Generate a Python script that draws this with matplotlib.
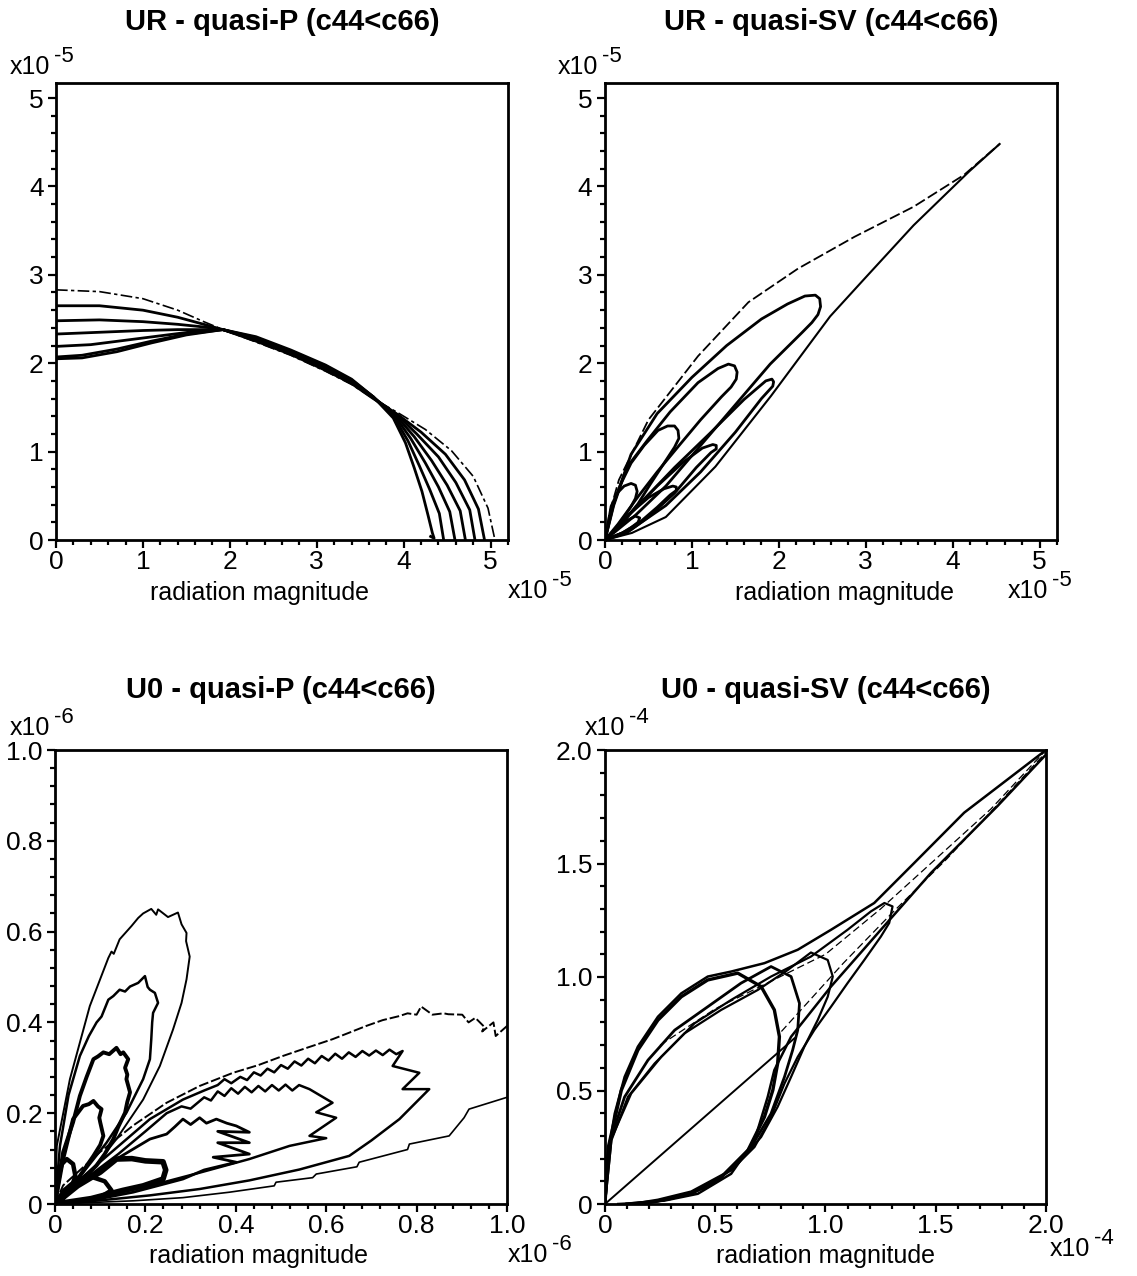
import matplotlib
matplotlib.use("Agg")
import matplotlib.pyplot as plt
from matplotlib.ticker import FixedLocator, MultipleLocator

plt.rcParams["font.family"] = ["Liberation Sans", "DejaVu Sans"]

# ---------------- data ----------------
# UR - quasi-P : seven radiation curves, units of 1e-5
qp_c0_x = [0, 0.5, 1.0, 1.4, 1.7, 1.92, 2.3, 2.7, 3.1, 3.4, 3.65, 3.95, 4.25, 4.55, 4.8, 4.97, 5.05]
qp_c0_y = [2.83, 2.81, 2.73, 2.60, 2.47, 2.38, 2.24, 2.09, 1.91, 1.76, 1.60, 1.43, 1.25, 1.01, 0.72, 0.36, 0.0]
qp_c1_x = [0, 0.5, 1.0, 1.4, 1.7, 1.92, 2.3, 2.7, 3.1, 3.4, 3.65, 3.93, 4.2, 4.48, 4.7, 4.86, 4.93]
qp_c1_y = [2.65, 2.65, 2.60, 2.52, 2.44, 2.38, 2.25, 2.10, 1.92, 1.77, 1.60, 1.42, 1.22, 0.97, 0.68, 0.35, 0.0]
qp_c2_x = [0, 0.5, 1.0, 1.4, 1.7, 1.92, 2.3, 2.7, 3.1, 3.4, 3.65, 3.92, 4.15, 4.4, 4.6, 4.76, 4.82]
qp_c2_y = [2.48, 2.49, 2.47, 2.44, 2.41, 2.38, 2.26, 2.11, 1.94, 1.78, 1.61, 1.42, 1.20, 0.94, 0.65, 0.34, 0.0]
qp_c3_x = [0, 0.5, 1.0, 1.4, 1.7, 1.92, 2.3, 2.7, 3.1, 3.4, 3.65, 3.91, 4.12, 4.32, 4.5, 4.65, 4.71]
qp_c3_y = [2.33, 2.35, 2.37, 2.38, 2.38, 2.38, 2.27, 2.12, 1.95, 1.79, 1.61, 1.41, 1.17, 0.90, 0.62, 0.33, 0.0]
qp_c4_x = [0, 0.4, 0.8, 1.2, 1.6, 1.92, 2.3, 2.7, 3.1, 3.4, 3.65, 3.9, 4.08, 4.25, 4.4, 4.53, 4.59]
qp_c4_y = [2.19, 2.21, 2.26, 2.31, 2.36, 2.38, 2.28, 2.13, 1.96, 1.80, 1.62, 1.40, 1.15, 0.87, 0.60, 0.32, 0.0]
qp_c5_x = [0, 0.3, 0.7, 1.1, 1.5, 1.92, 2.3, 2.7, 3.1, 3.4, 3.65, 3.89, 4.05, 4.18, 4.3, 4.41, 4.46]
qp_c5_y = [2.07, 2.09, 2.16, 2.25, 2.33, 2.38, 2.29, 2.14, 1.97, 1.81, 1.62, 1.39, 1.12, 0.84, 0.57, 0.30, 0.0]
qp_c6_x = [0, 0.3, 0.7, 1.1, 1.5, 1.92, 2.3, 2.7, 3.1, 3.4, 3.65, 3.88, 4.02, 4.12, 4.21, 4.28, 4.33, 4.35, 4.31]
qp_c6_y = [2.05, 2.06, 2.13, 2.23, 2.32, 2.38, 2.30, 2.15, 1.98, 1.82, 1.62, 1.38, 1.10, 0.82, 0.55, 0.28, 0.08, 0.02, 0.04]

# UR - quasi-SV : envelope and lobes, units of 1e-5
sv_env_up_x = [0, 0.05, 0.16, 0.5, 1.07, 1.65, 2.22, 2.87, 3.55, 4.13, 4.54]
sv_env_up_y = [0, 0.3, 0.68, 1.36, 2.08, 2.69, 3.07, 3.43, 3.77, 4.13, 4.48]
sv_env_lo_x = [4.54, 4.19, 3.55, 2.98, 2.59, 1.91, 1.27, 0.70, 0.31, 0]
sv_env_lo_y = [4.48, 4.17, 3.56, 2.95, 2.53, 1.63, 0.83, 0.26, 0.08, 0]
sv_lobe1_x = [0, 0.1, 0.3, 0.6, 1.0, 1.4, 1.8, 2.1, 2.3, 2.42, 2.47, 2.48, 2.45, 2.38, 2.27, 1.9, 1.5, 1.1, 0.7, 0.35, 0]
sv_lobe1_y = [0, 0.41, 0.97, 1.43, 1.84, 2.2, 2.5, 2.67, 2.76, 2.77, 2.73, 2.64, 2.55, 2.46, 2.35, 1.99, 1.53, 1.07, 0.61, 0.28, 0]
sv_lobe2_x = [0, 0.1, 0.25, 0.49, 0.75, 1.07, 1.3, 1.42, 1.49, 1.52, 1.51, 1.45, 1.34, 1.1, 0.87, 0.6, 0.38, 0.15, 0]
sv_lobe2_y = [0, 0.39, 0.82, 1.13, 1.45, 1.78, 1.94, 1.99, 1.97, 1.9, 1.82, 1.73, 1.62, 1.36, 1.09, 0.77, 0.49, 0.18, 0]
sv_lobe3_x = [0, 0.08, 0.18, 0.30, 0.45, 0.61, 0.72, 0.8, 0.84, 0.85, 0.8, 0.68, 0.52, 0.38, 0.18, 0]
sv_lobe3_y = [0, 0.36, 0.63, 0.87, 1.07, 1.24, 1.29, 1.29, 1.24, 1.15, 1.05, 0.87, 0.63, 0.41, 0.17, 0]
sv_lobe4_x = [0, 0.03, 0.07, 0.14, 0.22, 0.3, 0.35, 0.37, 0.35, 0.3, 0.22, 0.1, 0]
sv_lobe4_y = [0, 0.15, 0.38, 0.53, 0.61, 0.64, 0.62, 0.55, 0.47, 0.38, 0.26, 0.1, 0]
sv_low1_x = [0, 0.1, 0.2, 0.3, 0.38, 0.4, 0.35, 0.25, 0.12, 0]
sv_low1_y = [0, 0.04, 0.08, 0.14, 0.2, 0.25, 0.27, 0.22, 0.11, 0]
sv_low2_x = [0, 0.2, 0.4, 0.6, 0.75, 0.82, 0.82, 0.78, 0.68, 0.5, 0.3, 0.12, 0]
sv_low2_y = [0, 0.08, 0.2, 0.37, 0.51, 0.56, 0.6, 0.61, 0.58, 0.48, 0.31, 0.12, 0]
sv_low3_x = [0, 0.25, 0.5, 0.8, 1.05, 1.22, 1.28, 1.28, 1.24, 1.12, 0.9, 0.6, 0.3, 0]
sv_low3_y = [0, 0.08, 0.26, 0.53, 0.82, 0.99, 1.03, 1.07, 1.08, 1.04, 0.88, 0.61, 0.31, 0]
sv_low4_x = [0, 0.3, 0.7, 1.1, 1.5, 1.8, 1.93, 1.94, 1.92, 1.85, 1.6, 1.2, 0.8, 0.4, 0]
sv_low4_y = [0, 0.12, 0.39, 0.77, 1.22, 1.6, 1.74, 1.79, 1.82, 1.8, 1.59, 1.2, 0.82, 0.41, 0]

# U0 - quasi-P : jagged lobes, units of 1e-6
p0_u1_x = [0, 0.004, 0.033, 0.077, 0.118, 0.125, 0.13, 0.143, 0.169, 0.184, 0.195, 0.213, 0.224, 0.228, 0.25, 0.272,
           0.28, 0.291, 0.29, 0.298, 0.291, 0.28, 0.261, 0.232, 0.195, 0.136, 0.077, 0.018, 0]
p0_u1_y = [0, 0.128, 0.275, 0.436, 0.542, 0.556, 0.551, 0.583, 0.612, 0.630, 0.640, 0.650, 0.637, 0.649, 0.632, 0.642,
           0.616, 0.597, 0.579, 0.545, 0.495, 0.443, 0.384, 0.304, 0.230, 0.143, 0.069, 0.019, 0]
p0_u2_x = [0, 0.011, 0.03, 0.055, 0.075, 0.092, 0.103, 0.118, 0.129, 0.143, 0.155, 0.166, 0.184, 0.199, 0.205,
           0.21, 0.221, 0.228, 0.217, 0.215, 0.213, 0.21, 0.195, 0.158, 0.114, 0.062, 0.018, 0]
p0_u2_y = [0, 0.128, 0.24, 0.326, 0.37, 0.40, 0.413, 0.45, 0.458, 0.472, 0.468, 0.479, 0.487, 0.502, 0.478,
           0.472, 0.465, 0.443, 0.421, 0.40, 0.363, 0.319, 0.275, 0.201, 0.135, 0.069, 0.019, 0]
p0_u3_x = [0, 0.018, 0.04, 0.055, 0.07, 0.085, 0.095, 0.107, 0.12, 0.136, 0.145, 0.151, 0.162, 0.155, 0.16, 0.158,
           0.166, 0.16, 0.155, 0.14, 0.129, 0.11, 0.092, 0.04, 0]
p0_u3_y = [0, 0.114, 0.18, 0.238, 0.28, 0.319, 0.325, 0.334, 0.33, 0.344, 0.33, 0.334, 0.319, 0.30, 0.285, 0.275,
           0.246, 0.225, 0.201, 0.17, 0.143, 0.11, 0.085, 0.033, 0]
p0_u4_x = [0, 0.018, 0.04, 0.05, 0.062, 0.075, 0.085, 0.095, 0.103, 0.098, 0.1, 0.107, 0.1, 0.085, 0.055, 0.025, 0]
p0_u4_y = [0, 0.099, 0.187, 0.2, 0.216, 0.22, 0.227, 0.215, 0.209, 0.19, 0.18, 0.15, 0.13, 0.106, 0.062, 0.025, 0]
p0_u5_x = [0, 0.005, 0.015, 0.026, 0.04, 0.045, 0.035, 0.015, 0]
p0_u5_y = [0, 0.052, 0.088, 0.099, 0.088, 0.062, 0.031, 0.01, 0]
p0_outer_x = [0, 0.018, 0.099, 0.173, 0.247, 0.32, 0.394, 0.45, 0.504, 0.56, 0.614, 0.65, 0.688, 0.725, 0.762,
              0.78, 0.80, 0.81, 0.835, 0.86, 0.87, 0.901, 0.915, 0.93, 0.95, 0.945, 0.97, 0.975, 1.0, 1.03, 1.05]
p0_outer_y = [0, 0.041, 0.114, 0.173, 0.223, 0.26, 0.289, 0.306, 0.326, 0.345, 0.363, 0.377, 0.392, 0.405, 0.414,
              0.42, 0.417, 0.435, 0.417, 0.42, 0.418, 0.417, 0.40, 0.41, 0.39, 0.38, 0.40, 0.37, 0.392, 0.37, 0.33]
p0_stair_x = [1.05, 1.0, 0.916, 0.905, 0.872, 0.784, 0.78, 0.673, 0.668, 0.578, 0.57, 0.489, 0.485, 0.386, 0.283, 0.173, 0]
p0_stair_y = [0.25, 0.235, 0.209, 0.19, 0.15, 0.132, 0.12, 0.092, 0.082, 0.066, 0.058, 0.048, 0.04, 0.026, 0.014, 0.007, 0]
p0_l2_x = [0, 0.05, 0.12, 0.21, 0.283, 0.33, 0.36, 0.375, 0.39, 0.41, 0.425, 0.44, 0.455, 0.47, 0.485, 0.50, 0.515,
           0.53, 0.545, 0.56, 0.575, 0.59, 0.605, 0.62, 0.635, 0.65, 0.665, 0.68, 0.695, 0.71, 0.725, 0.74, 0.755,
           0.769, 0.747, 0.806, 0.769, 0.828, 0.762, 0.70, 0.651, 0.541, 0.43, 0.32, 0.21, 0.1, 0]
p0_l2_y = [0, 0.05, 0.11, 0.187, 0.23, 0.25, 0.262, 0.275, 0.266, 0.28, 0.273, 0.29, 0.283, 0.298, 0.29, 0.306, 0.298,
           0.314, 0.305, 0.32, 0.31, 0.326, 0.316, 0.331, 0.32, 0.334, 0.324, 0.337, 0.327, 0.338, 0.328, 0.34, 0.33,
           0.337, 0.304, 0.289, 0.253, 0.253, 0.187, 0.14, 0.106, 0.076, 0.052, 0.033, 0.019, 0.008, 0]
p0_l3_x = [0, 0.06, 0.14, 0.2, 0.247, 0.28, 0.3, 0.33, 0.345, 0.36, 0.375, 0.39, 0.405, 0.42, 0.435, 0.45, 0.465,
           0.48, 0.495, 0.51, 0.525, 0.54, 0.563, 0.614, 0.578, 0.622, 0.563, 0.60, 0.519, 0.43, 0.32, 0.21, 0.1, 0]
p0_l3_y = [0, 0.05, 0.11, 0.16, 0.20, 0.215, 0.21, 0.235, 0.228, 0.248, 0.238, 0.255, 0.243, 0.258, 0.246, 0.26,
           0.248, 0.262, 0.25, 0.263, 0.25, 0.262, 0.253, 0.223, 0.202, 0.19, 0.15, 0.145, 0.128, 0.099, 0.069,
           0.04, 0.015, 0]
p0_l4_x = [0, 0.06, 0.136, 0.21, 0.247, 0.265, 0.283, 0.3, 0.32, 0.335, 0.357, 0.38, 0.401, 0.43, 0.36, 0.43, 0.36,
           0.43, 0.35, 0.401, 0.33, 0.283, 0.173, 0.08, 0]
p0_l4_y = [0, 0.05, 0.099, 0.143, 0.154, 0.17, 0.187, 0.175, 0.19, 0.178, 0.187, 0.178, 0.172, 0.158, 0.16, 0.135,
           0.135, 0.11, 0.103, 0.092, 0.075, 0.055, 0.026, 0.008, 0]
p0_l5_x = [0, 0.05, 0.1, 0.136, 0.17, 0.2, 0.239, 0.245, 0.239, 0.195, 0.15, 0.08, 0]
p0_l5_y = [0, 0.04, 0.07, 0.099, 0.1, 0.095, 0.093, 0.075, 0.055, 0.04, 0.03, 0.012, 0]
p0_l6_x = [0, 0.02, 0.05, 0.08, 0.11, 0.125, 0.1, 0.05, 0]
p0_l6_y = [0, 0.03, 0.055, 0.06, 0.05, 0.03, 0.015, 0.005, 0]

# U0 - quasi-SV : teardrop loops, units of 1e-4
s0_env_up_x = [0, 0.001, 0.014, 0.044, 0.089, 0.149, 0.24, 0.346, 0.466, 0.572, 0.723, 0.874, 1.025, 1.221, 1.403, 1.629, 2.0]
s0_env_up_y = [0, 0.04, 0.222, 0.398, 0.56, 0.693, 0.825, 0.928, 1.002, 1.024, 1.061, 1.12, 1.208, 1.326, 1.503, 1.724, 2.0]
s0_env_lo_x = [2.0, 1.78, 1.478, 1.251, 1.025, 0.844, 0.768, 0.738, 0.678, 0.572, 0.421, 0.27, 0.12, 0.06]
s0_env_lo_y = [1.98, 1.753, 1.458, 1.208, 0.958, 0.737, 0.59, 0.472, 0.28, 0.133, 0.045, 0.015, 0.003, 0]
s0_diag_x = [0, 0.859]
s0_diag_y = [0, 0.73]
s0_loop1_x = [0, 0.015, 0.074, 0.149, 0.24, 0.346, 0.466, 0.602, 0.708, 0.768, 0.791, 0.783, 0.761, 0.723, 0.648,
              0.527, 0.391, 0.224, 0.1]
s0_loop1_y = [0, 0.25, 0.501, 0.678, 0.81, 0.913, 0.987, 1.017, 0.958, 0.855, 0.737, 0.619, 0.501, 0.383, 0.236,
              0.118, 0.045, 0.01, 0]
s0_loop2_x = [0, 0.02, 0.089, 0.195, 0.316, 0.466, 0.617, 0.753, 0.844, 0.882, 0.874, 0.851, 0.814, 0.753, 0.663,
              0.542, 0.391, 0.24, 0.15]
s0_loop2_y = [0, 0.27, 0.472, 0.634, 0.766, 0.869, 0.973, 1.046, 1.002, 0.884, 0.766, 0.678, 0.56, 0.398, 0.251,
              0.133, 0.054, 0.018, 0.004]
s0_loop3_x = [0, 0.029, 0.104, 0.225, 0.361, 0.527, 0.693, 0.829, 0.934, 1.01, 1.033, 1.01, 0.965, 0.904, 0.844,
              0.783, 0.708, 0.602, 0.466, 0.298, 0.19]
s0_loop3_y = [0, 0.28, 0.472, 0.619, 0.752, 0.855, 0.943, 1.031, 1.108, 1.075, 1.002, 0.913, 0.811, 0.693, 0.56,
              0.428, 0.295, 0.178, 0.074, 0.022, 0.004]
s0_loop4_x = [0, 0.03, 0.119, 0.255, 0.406, 0.572, 0.753, 0.934, 1.1, 1.206, 1.267, 1.304, 1.289, 1.251, 1.176,
              1.1, 1.025, 0.949, 0.874, 0.814, 0.753, 0.678, 0.572, 0.421, 0.27, 0.2]
s0_loop4_y = [0, 0.29, 0.487, 0.648, 0.796, 0.899, 1.002, 1.09, 1.208, 1.289, 1.326, 1.311, 1.238, 1.178, 1.075,
              0.973, 0.869, 0.766, 0.648, 0.531, 0.383, 0.251, 0.148, 0.06, 0.018, 0.006]
s0_dash1_x = [0.25, 0.5, 0.75, 1.0, 1.25, 1.5, 1.75, 2.0]
s0_dash1_y = [0.70, 0.86, 0.98, 1.1, 1.3, 1.52, 1.74, 2.0]
s0_dash2_x = [0.8, 1.08, 1.3, 1.55, 1.8, 2.0]
s0_dash2_y = [0.76, 1.06, 1.28, 1.52, 1.78, 1.99]

# axis ticks
top_ticks = [0, 1, 2, 3, 4, 5]
top_labels = ["0", "1", "2", "3", "4", "5"]
p0_ticks = [0, 0.2, 0.4, 0.6, 0.8, 1.0]
p0_labels = ["0", "0.2", "0.4", "0.6", "0.8", "1.0"]
s0_ticks = [0, 0.5, 1.0, 1.5, 2.0]
s0_labels = ["0", "0.5", "1.0", "1.5", "2.0"]

# ---------------- figure ----------------
W, H = 1137, 1276
fig = plt.figure(figsize=(W / 100, H / 100), dpi=100)


def add_ax(left, top, right, bottom):
    return fig.add_axes([left / W, 1 - bottom / H, (right - left) / W, (bottom - top) / H])


def style(ax, ticks, labels, minor, lim):
    ax.set_xlim(lim[0], lim[1])
    ax.set_ylim(lim[2], lim[3])
    for axis in (ax.xaxis, ax.yaxis):
        axis.set_major_locator(FixedLocator(ticks))
        axis.set_minor_locator(MultipleLocator(minor))
    ax.set_xticklabels(labels)
    ax.set_yticklabels(labels)
    ax.tick_params(which="both", direction="out", top=False, right=False, width=1.6, colors="black")
    ax.tick_params(which="major", length=6, labelsize=19)
    ax.tick_params(which="minor", length=3.5)
    ax.tick_params(axis="x", which="major", pad=1)
    ax.tick_params(axis="y", which="major", pad=3)
    for s in ax.spines.values():
        s.set_linewidth(2.0)


def title(x, y, s):
    fig.text(x / W, 1 - y / H, s, ha="center", va="center", fontsize=21, fontweight="bold")


renderer = fig.canvas.get_renderer()


def offset(x, y, exp):
    # "x10" with a raised exponent written with a plain hyphen, as in the original
    base = fig.text(x / W, 1 - y / H, "x10", ha="left", va="baseline", fontsize=18)
    bb = base.get_window_extent(renderer)
    fig.text((bb.x1 + 4) / W, 1 - (y - 12) / H, exp, ha="left", va="baseline", fontsize=16)


def xlab(ax, x_ax, y_ax):
    ax.set_xlabel("radiation magnitude", fontsize=18)
    ax.xaxis.set_label_coords(x_ax, y_ax)
    ax.xaxis.label.set_va("center")


K = "black"

# --- UR quasi-P
ax1 = add_ax(56, 83, 508, 540)
qp = [(qp_c0_x, qp_c0_y), (qp_c1_x, qp_c1_y), (qp_c2_x, qp_c2_y), (qp_c3_x, qp_c3_y),
      (qp_c4_x, qp_c4_y), (qp_c5_x, qp_c5_y), (qp_c6_x, qp_c6_y)]
for i, (xs, ys) in enumerate(qp):
    if i == 0:
        ax1.plot(xs, ys, color=K, lw=1.2, dashes=(7, 2, 2, 2))
    else:
        ax1.plot(xs, ys, color=K, lw=2.0)
style(ax1, top_ticks, top_labels, 0.2, (0, 5.2, 0, 5.17))
xlab(ax1, 0.45, -0.115)

# --- UR quasi-SV
ax2 = add_ax(605, 83, 1057, 540)
ax2.plot(sv_env_up_x, sv_env_up_y, color=K, lw=1.3, dashes=(6, 2))
ax2.plot(sv_env_lo_x, sv_env_lo_y, color=K, lw=1.5)
for xs, ys in [(sv_lobe1_x, sv_lobe1_y), (sv_lobe2_x, sv_lobe2_y), (sv_lobe3_x, sv_lobe3_y),
               (sv_lobe4_x, sv_lobe4_y), (sv_low1_x, sv_low1_y), (sv_low2_x, sv_low2_y),
               (sv_low3_x, sv_low3_y), (sv_low4_x, sv_low4_y)]:
    ax2.plot(xs, ys, color=K, lw=2.0)
style(ax2, top_ticks, top_labels, 0.2, (0, 5.2, 0, 5.17))
xlab(ax2, 0.53, -0.115)

# --- U0 quasi-P
ax3 = add_ax(55, 750, 507, 1204)
ax3.plot(p0_u1_x, p0_u1_y, color=K, lw=1.4)
ax3.plot(p0_u2_x, p0_u2_y, color=K, lw=1.8)
ax3.plot(p0_u3_x, p0_u3_y, color=K, lw=2.8)
ax3.plot(p0_u4_x, p0_u4_y, color=K, lw=2.8)
ax3.plot(p0_u5_x, p0_u5_y, color=K, lw=3.2)
ax3.plot(p0_outer_x, p0_outer_y, color=K, lw=1.4, dashes=(5, 1.5))
ax3.plot(p0_stair_x, p0_stair_y, color=K, lw=1.2)
ax3.plot(p0_l2_x, p0_l2_y, color=K, lw=1.8)
ax3.plot(p0_l3_x, p0_l3_y, color=K, lw=1.8)
ax3.plot(p0_l4_x, p0_l4_y, color=K, lw=2.0)
ax3.plot(p0_l5_x, p0_l5_y, color=K, lw=4.0)
ax3.plot(p0_l6_x, p0_l6_y, color=K, lw=3.2)
style(ax3, p0_ticks, p0_labels, 0.04, (0, 1.0, 0, 1.0))
xlab(ax3, 0.45, -0.115)

# --- U0 quasi-SV
ax4 = add_ax(605, 750, 1046, 1204)
ax4.plot(s0_env_up_x, s0_env_up_y, color=K, lw=1.8)
ax4.plot(s0_env_lo_x, s0_env_lo_y, color=K, lw=1.8)
ax4.plot(s0_diag_x, s0_diag_y, color=K, lw=1.4)
ax4.plot(s0_loop1_x, s0_loop1_y, color=K, lw=2.4)
ax4.plot(s0_loop2_x, s0_loop2_y, color=K, lw=2.0)
ax4.plot(s0_loop3_x, s0_loop3_y, color=K, lw=1.6)
ax4.plot(s0_loop4_x, s0_loop4_y, color=K, lw=1.6)
ax4.plot(s0_dash1_x, s0_dash1_y, color=K, lw=0.9, dashes=(6, 3))
ax4.plot(s0_dash2_x, s0_dash2_y, color=K, lw=0.9, dashes=(6, 3))
style(ax4, s0_ticks, s0_labels, 0.1, (0, 2.0, 0, 2.0))
xlab(ax4, 0.5, -0.115)

# titles and scale labels
title(282, 22, "UR - quasi-P (c44<c66)")
title(831, 22, "UR - quasi-SV (c44<c66)")
title(281, 690, "U0 - quasi-P (c44<c66)")
title(826, 690, "U0 - quasi-SV (c44<c66)")
offset(10, 74, "-5")
offset(558, 74, "-5")
offset(508, 598, "-5")
offset(1008, 598, "-5")
offset(10, 735, "-6")
offset(585, 735, "-4")
offset(508, 1262, "-6")
offset(1050, 1256, "-4")

fig.savefig("out.png", dpi=100)
